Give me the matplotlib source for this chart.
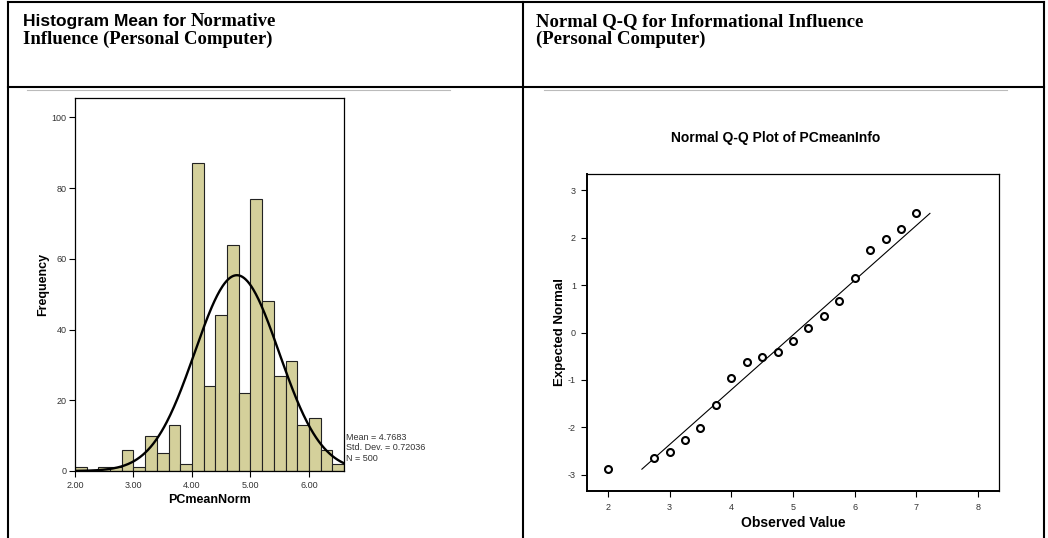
import numpy as np
import matplotlib
matplotlib.use('Agg')
import matplotlib.pyplot as plt
from matplotlib.lines import Line2D

W, H = 1048, 538

# histogram of PCmeanNorm (bins of 0.2 from 2.0 to 6.6)
bin_edges = np.linspace(2.0, 6.6, 24)
freq = [1, 0, 1, 1, 6, 1, 10, 5, 13, 2, 87, 24, 44, 64, 22, 77, 48, 27, 31, 13, 15, 6, 2]
hist_mean = 4.7683
hist_sd = 0.72036
hist_n = 500
hist_xticks = [2, 3, 4, 5, 6]
hist_xlabels = ['2.00', '3.00', '4.00', '5.00', '6.00']
hist_yticks = [0, 20, 40, 60, 80, 100]

# normal Q-Q of PCmeanInfo
qq_observed = [2.0, 2.75, 3.0, 3.25, 3.5, 3.75, 4.0, 4.25, 4.5, 4.75,
               5.0, 5.25, 5.5, 5.75, 6.0, 6.25, 6.5, 6.75, 7.0]
qq_expected = [-2.88, -2.65, -2.51, -2.26, -2.01, -1.53, -0.95, -0.63, -0.52, -0.41,
               -0.18, 0.10, 0.35, 0.66, 1.14, 1.73, 1.97, 2.18, 2.51]
qq_line_x = [2.55, 7.22]
qq_line_y = [-2.88, 2.51]
qq_xticks = [2, 3, 4, 5, 6, 7, 8]
qq_yticks = [-3, -2, -1, 0, 1, 2, 3]

SANS = 'Liberation Sans'
SERIF = 'Liberation Serif'
plt.rcParams['font.family'] = SANS
plt.rcParams['axes.unicode_minus'] = False

fig = plt.figure(figsize=(W / 100, H / 100), dpi=100)


def px_axes(x0, y0, x1, y1):
    return fig.add_axes([x0 / W, 1 - y1 / H, (x1 - x0) / W, (y1 - y0) / H])


def px_line(x0, y0, x1, y1, **kw):
    fig.add_artist(Line2D([x0 / W, x1 / W], [1 - y0 / H, 1 - y1 / H],
                          transform=fig.transFigure, **kw))


def px_text(x, y, s, **kw):
    return fig.text(x / W, 1 - y / H, s, **kw)


# table grid
for x in (8, 523, 1044):
    px_line(x, 2, x, 538, color='black', lw=1.5)
px_line(8, 2, 1044, 2, color='black', lw=1.5)
px_line(8, 87, 1044, 87, color='black', lw=1.5)
px_line(27, 89.5, 450, 89.5, color='#bbbbbb', lw=0.8)
px_line(544, 89.5, 1007, 89.5, color='#bbbbbb', lw=0.8)

# headers
t1 = px_text(23, 26, 'Histogram Mean for ', family=SANS, weight='bold',
             fontsize=12.5, va='baseline')
fig.canvas.draw()
bb = t1.get_window_extent()
fig.text(bb.x1 / W, 1 - 26 / H, 'Normative', family=SERIF, weight='bold',
         fontsize=13.5, va='baseline')
px_text(23, 44, 'Influence (Personal Computer)', family=SERIF, weight='bold',
        fontsize=13.5, va='baseline')
px_text(536, 26, 'Normal Q-Q for Informational Influence', family=SERIF,
        weight='bold', fontsize=13.5, va='baseline')
px_text(536, 44, '(Personal Computer)', family=SERIF, weight='bold',
        fontsize=13.5, va='baseline')

tick_kw = dict(direction='out', length=4, width=0.8, labelsize=6.5,
               labelcolor='#333333')

# histogram
ax1 = px_axes(75, 98, 344, 471)
ax1.bar(bin_edges[:-1], freq, width=0.2, align='edge', color='#d4d09b',
        edgecolor='#222222', linewidth=0.8)
xs = np.linspace(bin_edges[0], bin_edges[-1], 300)
curve = hist_n * 0.2 * np.exp(-0.5 * ((xs - hist_mean) / hist_sd) ** 2) / (hist_sd * np.sqrt(2 * np.pi))
ax1.plot(xs, curve, color='black', lw=1.7)
ax1.set_xlim(2.0, 6.6)
ax1.set_ylim(0, 105.5)
ax1.set_xticks(hist_xticks)
ax1.set_xticklabels(hist_xlabels)
ax1.set_yticks(hist_yticks)
ax1.tick_params(**tick_kw)
ax1.tick_params(axis='x', pad=3)
ax1.tick_params(axis='y', pad=2)
for s in ax1.spines.values():
    s.set_linewidth(0.9)
ax1.set_xlabel('PCmeanNorm', fontsize=9, weight='bold')
ax1.xaxis.set_label_coords(0.5, -0.062)
ax1.set_ylabel('Frequency', fontsize=9, weight='bold')
ax1.yaxis.set_label_coords(-0.095, 0.5)
stats = [f'Mean = {hist_mean}', f'Std. Dev. = {hist_sd}', f'N = {hist_n}']
for i, s in enumerate(stats):
    px_text(346, 440 + i * 10.5, s, fontsize=6.5, color='#333333', va='baseline')

# Q-Q plot
ax2 = px_axes(587, 174, 999, 491)
ax2.plot(qq_line_x, qq_line_y, color='black', lw=0.8)
ax2.plot(qq_observed, qq_expected, 'o', mfc='white', mec='black', ms=5, mew=1.5)
ax2.set_xlim(1.66, 8.34)
ax2.set_ylim(-3.34, 3.34)
ax2.set_xticks(qq_xticks)
ax2.set_yticks(qq_yticks)
ax2.tick_params(**tick_kw)
ax2.tick_params(axis='x', pad=5)
ax2.tick_params(axis='y', pad=4)
ax2.spines['left'].set_linewidth(1.4)
ax2.spines['bottom'].set_linewidth(1.4)
ax2.spines['top'].set_linewidth(0.9)
ax2.spines['right'].set_linewidth(0.9)
ax2.set_xlabel('Observed Value', fontsize=10, weight='bold')
ax2.xaxis.set_label_coords(0.5, -0.078)
ax2.set_ylabel('Expected Normal', fontsize=9.5, weight='bold')
ax2.yaxis.set_label_coords(-0.05, 0.5)
px_text(776, 142, 'Normal Q-Q Plot of PCmeanInfo', fontsize=10, weight='bold',
        ha='center', va='baseline')

fig.savefig('out.png', dpi=100)
